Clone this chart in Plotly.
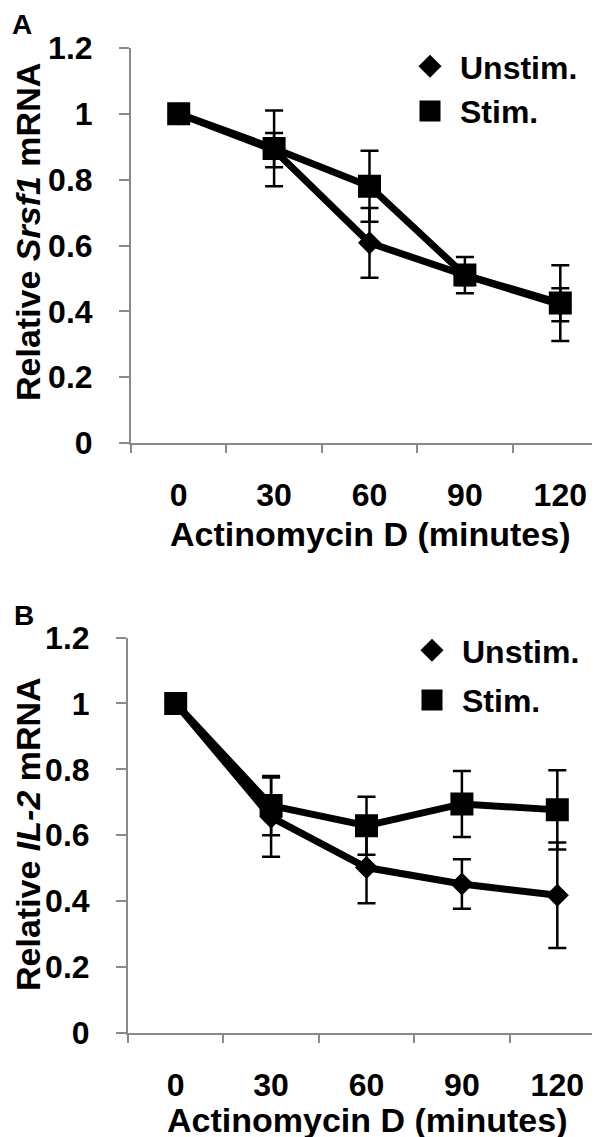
import plotly.graph_objects as go

# ---------------- data ----------------
times = ["0", "30", "60", "90", "120"]
y_ticks = [0, 0.2, 0.4, 0.6, 0.8, 1.0, 1.2]
y_tick_text = ["0", "0.2", "0.4", "0.6", "0.8", "1", "1.2"]
series_names = ["Unstim.", "Stim."]
x_title = "Actinomycin D (minutes)"
y_title_a = "Relative <i>Srsf1</i> mRNA"
y_title_b = "Relative <i>IL-2</i> mRNA"

# Panel A: Srsf1
a_unstim = [1.0, 0.89, 0.608, 0.51, 0.42]
a_unstim_err = [0, 0.052, 0.106, 0.03, 0.05]
a_stim = [1.0, 0.895, 0.78, 0.51, 0.425]
a_stim_err = [0, 0.115, 0.108, 0.055, 0.115]

# Panel B: IL-2
b_unstim = [1.0, 0.655, 0.502, 0.452, 0.418]
b_unstim_err = [0, 0.12, 0.108, 0.075, 0.16]
b_stim = [1.0, 0.69, 0.629, 0.695, 0.677]
b_stim_err = [0, 0.09, 0.088, 0.1, 0.12]

# ---------------- style ----------------
W, H = 600, 1137
FONT = "Liberation Sans, Arial, sans-serif"
AXIS_GRAY = "#8a8a8a"
LINE_W = 7
symbols = {"Unstim.": "diamond", "Stim.": "square"}
msize = {"Unstim.": 14.5, "Stim.": 18}
mline = {"Unstim.": 3, "Stim.": 5}

fig = go.Figure()

panels = [
    ("x", "y", "legend", "a", {"Unstim.": (a_unstim, a_unstim_err), "Stim.": (a_stim, a_stim_err)}),
    ("x2", "y2", "legend2", "b", {"Unstim.": (b_unstim, b_unstim_err), "Stim.": (b_stim, b_stim_err)}),
]

for xa, ya, leg, tag, data in panels:
    for name in series_names:
        vals, _ = data[name]
        fig.add_trace(go.Scatter(
            x=times, y=vals, mode="lines", xaxis=xa, yaxis=ya,
            line=dict(color="black", width=LINE_W),
            showlegend=False, hoverinfo="skip"))
    for name in series_names:
        vals, err = data[name]
        fig.add_trace(go.Scatter(
            x=times, y=vals, mode="markers", name=name, xaxis=xa, yaxis=ya,
            legend=leg, legendgroup=tag + name,
            marker=dict(symbol=symbols[name], size=msize[name], color="black",
                        line=dict(color="black", width=mline[name])),
            error_y=dict(type="data", array=err, visible=True, color="black",
                         thickness=2.5, width=9),
            showlegend=True))


def px_x(p):
    return p / W


def px_y(p):
    return 1 - p / H


tick_font = dict(family=FONT, size=32, color="black", weight="bold")
title_font = dict(family=FONT, size=34, color="black", weight="bold")

xaxis_common = dict(
    type="category", categoryorder="array", categoryarray=times,
    range=[-0.5, 4.5], tickson="boundaries", automargin=False,
    showline=True, linecolor=AXIS_GRAY, linewidth=2,
    ticks="outside", ticklen=8, tickwidth=2, tickcolor=AXIS_GRAY,
    showgrid=False, zeroline=False, tickfont=tick_font,
    ticklabelstandoff=23,
)
yaxis_common = dict(
    range=[0, 1.2], tickvals=y_ticks, ticktext=y_tick_text, automargin=False,
    showline=True, linecolor=AXIS_GRAY, linewidth=2,
    ticks="outside", ticklen=10, tickwidth=2, tickcolor=AXIS_GRAY,
    showgrid=False, zeroline=False, tickfont=tick_font,
    ticklabelstandoff=20,
)

legend_common = dict(
    font=dict(family=FONT, size=32, color="black", weight="bold"),
    bgcolor="rgba(0,0,0,0)", borderwidth=0, itemwidth=50,
    xanchor="left", yanchor="top", itemclick=False, itemdoubleclick=False,
    traceorder="grouped",
)

letter_font = dict(family=FONT, size=28, color="black", weight="bold")


def label(text, x, y, font, angle=0):
    return dict(text=text, x=px_x(x), y=px_y(y), xref="paper", yref="paper",
                xanchor="center", yanchor="middle", showarrow=False,
                textangle=angle, font=font)


fig.update_layout(
    template="none",
    width=W, height=H,
    margin=dict(l=0, r=0, t=0, b=0, autoexpand=False),
    paper_bgcolor="white", plot_bgcolor="white",
    xaxis=dict(domain=[px_x(123), px_x(600)], anchor="y", **xaxis_common),
    yaxis=dict(domain=[px_y(435), px_y(40)], anchor="x", **yaxis_common),
    xaxis2=dict(domain=[px_x(120), px_x(597)], anchor="y2", **xaxis_common),
    yaxis2=dict(domain=[px_y(1025), px_y(629.5)], anchor="x2", **yaxis_common),
    legend=dict(x=px_x(392), y=px_y(31), tracegroupgap=0, **legend_common),
    legend2=dict(x=px_x(394), y=px_y(615), tracegroupgap=5, **legend_common),
    showlegend=True,
    annotations=[
        label("A", 14, 16.5, letter_font),
        label("B", 16, 607, letter_font),
        label(x_title, 362, 526, title_font),
        label(x_title, 359, 1112, title_font),
        label(y_title_a, 20, 224, title_font, -90),
        label(y_title_b, 20, 826, title_font, -90),
    ],
)

fig.write_html("out.html")
